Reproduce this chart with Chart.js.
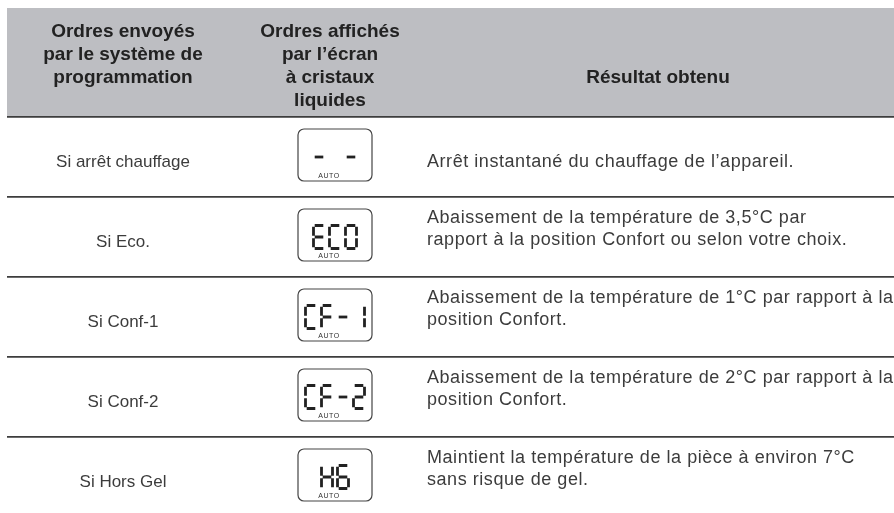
<!DOCTYPE html>
<html lang="fr">
<head>
<meta charset="utf-8">
<script src="https://cdn.jsdelivr.net/npm/chart.js@4.4.1/dist/chart.umd.min.js"></script>
<style>
  html, body { margin: 0; padding: 0; background: #fff; overflow: hidden; }
  #wrap { position: relative; width: 894px; height: 520px; }
</style>
</head>
<body>
<div id="wrap"><canvas id="table"></canvas></div>
<script>
// Column headers (one entry per printed line)
const headerCol1 = ['Ordres envoyés', 'par le système de', 'programmation'];
const headerCol2 = ['Ordres affichés', 'par l\u2019écran', 'à cristaux', 'liquides'];
const headerCol3 = ['Résultat obtenu'];

// Rows of the table
const orders = ['Si arrêt chauffage', 'Si Eco.', 'Si Conf-1', 'Si Conf-2', 'Si Hors Gel'];
const lcdTexts = ['- -', 'ECO', 'CF-1', 'CF-2', 'HG'];
const results = [
    ['Arrêt instantané du chauffage de l\u2019appareil.'],
    ['Abaissement de la température de 3,5°C par', 'rapport à la position Confort ou selon votre choix.'],
    ['Abaissement de la température de 1°C par rapport à la', 'position Confort.'],
    ['Abaissement de la température de 2°C par rapport à la', 'position Confort.'],
    ['Maintient la température de la pièce à environ 7°C', 'sans risque de gel.']
];

// seven segment map: a top, b top right, c bottom right, d bottom, e bottom left, f top left, g middle
const SEGMENTS = {
    'E': 'adefg', 'C': 'adef', 'O': 'abcdef', 'F': 'aefg', '-': 'g',
    '1': 'bc', '2': 'abged', 'H': 'bcefg', 'G': 'acdefg', ' ': ''
};

function drawSegChar(ctx, ch, x, y, w, h, t) {
    const segs = SEGMENTS[ch] || '';
    const half = h / 2;
    const g = 1.2;
    ctx.lineWidth = t;
    ctx.lineCap = 'butt';
    ctx.beginPath();
    if (segs.includes('a')) { ctx.moveTo(x + g, y); ctx.lineTo(x + w - g, y); }
    if (segs.includes('g')) { ctx.moveTo(x + g, y + half); ctx.lineTo(x + w - g, y + half); }
    if (segs.includes('d')) { ctx.moveTo(x + g, y + h); ctx.lineTo(x + w - g, y + h); }
    if (segs.includes('f')) { ctx.moveTo(x, y + g); ctx.lineTo(x, y + half - g); }
    if (segs.includes('b')) { ctx.moveTo(x + w, y + g); ctx.lineTo(x + w, y + half - g); }
    if (segs.includes('e')) { ctx.moveTo(x, y + half + g); ctx.lineTo(x, y + h - g); }
    if (segs.includes('c')) { ctx.moveTo(x + w, y + half + g); ctx.lineTo(x + w, y + h - g); }
    ctx.stroke();
}

function drawLcd(ctx, text, cx, cy) {
    const bw = 74, bh = 52;
    ctx.save();
    ctx.strokeStyle = '#444';
    ctx.lineWidth = 1.2;
    ctx.beginPath();
    ctx.roundRect(cx - bw / 2, cy - bh / 2, bw, bh, 6);
    ctx.stroke();

    // digits
    const cw = 11, chh = 23, pitch = 16;
    const chars = text.split('');
    const total = (chars.length - 1) * pitch + cw;
    let x = cx - total / 2;
    ctx.strokeStyle = '#222';
    chars.forEach(ch => {
        drawSegChar(ctx, ch, x, cy - chh / 2 + 2, cw, chh, 2.8);
        x += pitch;
    });

    ctx.fillStyle = '#333';
    ctx.font = '7px "Liberation Sans", Arial, sans-serif';
    ctx.textAlign = 'center';
    ctx.textBaseline = 'middle';
    ctx.fillText('AUTO', cx - 6, cy + bh / 2 - 5);
    ctx.restore();
}

const tablePlugin = {
    id: 'tableCells',
    beforeDraw(chart) {
        const { ctx, chartArea } = chart;
        ctx.save();
        ctx.fillStyle = '#bdbec2';
        ctx.fillRect(chartArea.left, 8, chart.width - chartArea.left, chartArea.top - 8);
        ctx.restore();
    },
    afterDraw(chart) {
        const { ctx, chartArea } = chart;
        const yScale = chart.scales.y;
        const left = chartArea.left;
        const col1 = left + 116, col2 = left + 328, col3 = left + 420;
        const hdr2 = left + 323, hdr3 = left + 651;

        ctx.save();
        ctx.textBaseline = 'middle';

        // header
        ctx.fillStyle = '#222';
        ctx.font = 'bold 19px "Liberation Sans", Arial, sans-serif';
        ctx.textAlign = 'center';
        headerCol1.forEach((s, i) => ctx.fillText(s, col1, 32 + i * 23));
        headerCol2.forEach((s, i) => ctx.fillText(s, hdr2, 32 + i * 23));
        headerCol3.forEach((s, i) => ctx.fillText(s, hdr3, 78 + i * 23));

        // body rows
        ctx.fillStyle = '#3c3c3c';
        orders.forEach((label, i) => {
            const cy = yScale.getPixelForValue(i);
            ctx.font = '17px "Liberation Sans", Arial, sans-serif';
            ctx.letterSpacing = '0px';
            ctx.textAlign = 'center';
            ctx.fillText(label, col1, cy + 5);

            ctx.font = '18px "Liberation Sans", Arial, sans-serif';
            ctx.letterSpacing = '0.55px';
            ctx.textAlign = 'left';
            const lines = results[i];
            const lh = 22;
            const top = lines.length > 1 ? cy - 19 : cy + 5;
            lines.forEach((s, j) => ctx.fillText(s, col3, top + j * lh));

            drawLcd(ctx, lcdTexts[i], col2, cy - 2);
        });
        ctx.restore();
    }
};

new Chart(document.getElementById('table'), {
    type: 'bar',
    data: {
        labels: orders,
        datasets: []
    },
    options: {
        indexAxis: 'y',
        responsive: true,
        maintainAspectRatio: false,
        animation: false,
        layout: { padding: { top: 117, left: 7, right: 0, bottom: 3 } },
        plugins: {
            legend: { display: false },
            tooltip: { enabled: false }
        },
        scales: {
            x: { display: false },
            y: {
                type: 'category',
                grid: {
                    offset: true,
                    drawTicks: false,
                    color: '#3d3d3d',
                    lineWidth: 1.8
                },
                border: { display: false },
                ticks: { display: false },
                afterFit: function(scale) { scale.width = 0; }
            }
        }
    },
    plugins: [tablePlugin]
});
</script>
</body>
</html>
